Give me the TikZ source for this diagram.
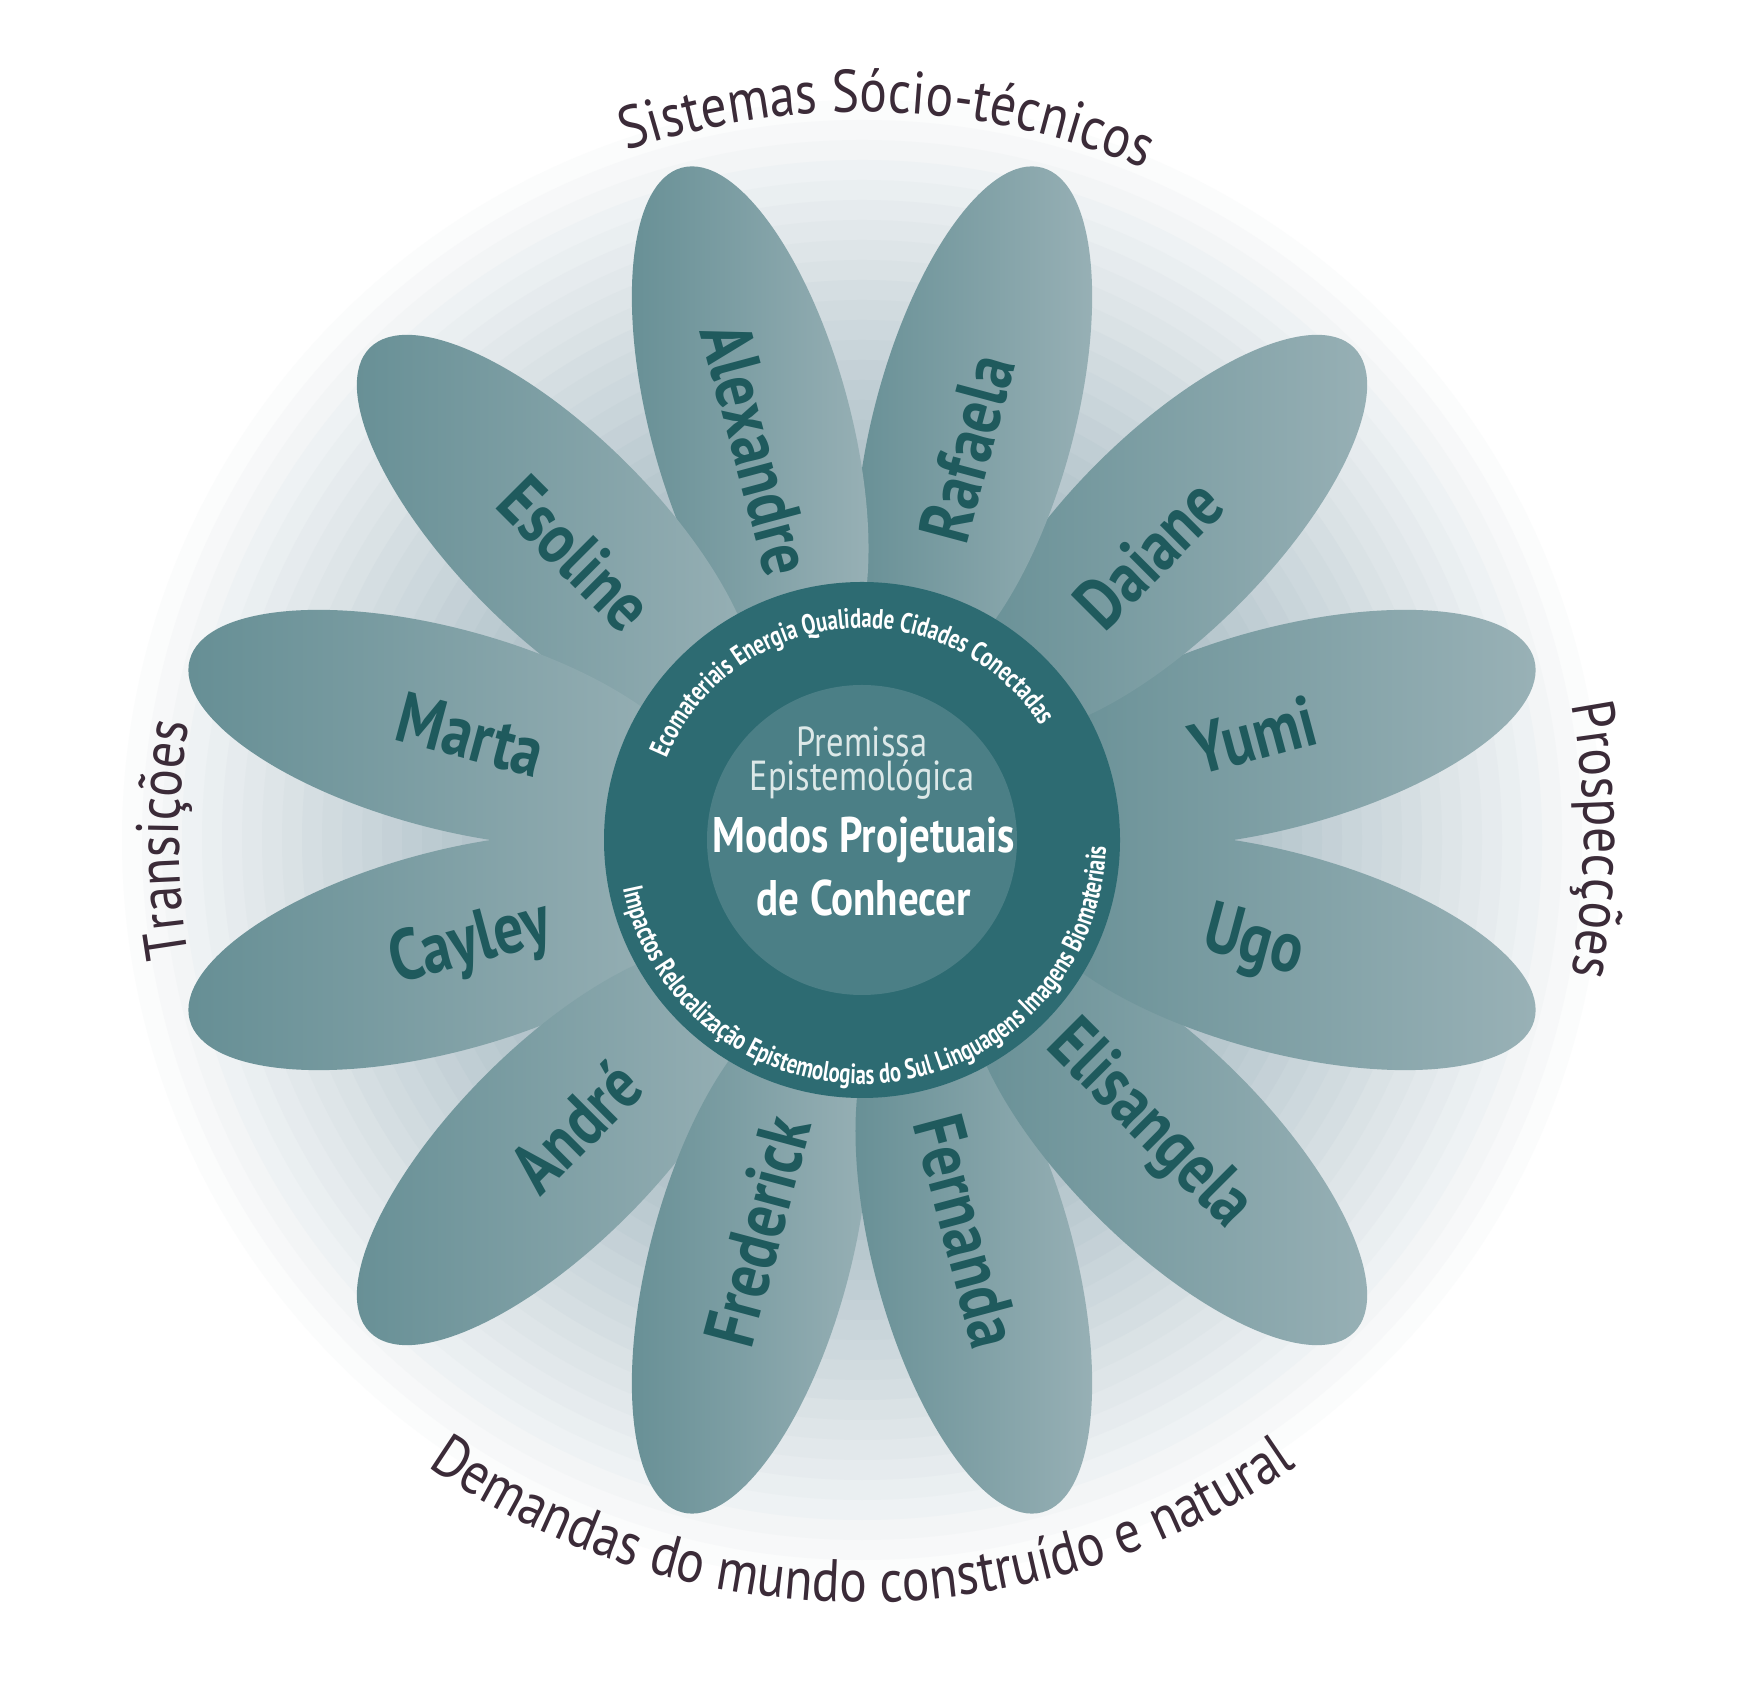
\documentclass[tikz,border=0pt]{standalone}
\usepackage{fontspec}
\setmainfont{PT Sans}
\newfontfamily\nm[FakeStretch=0.82]{PT Sans}
\newfontfamily\nmc[FakeStretch=0.74]{PT Sans}
\newfontfamily\lab[FakeStretch=0.86]{PT Sans}
\usetikzlibrary{decorations.text,calc}
\definecolor{halo}{HTML}{9FB4BD}
\definecolor{petaldark}{HTML}{658E94}
\definecolor{petallight}{HTML}{9AB2B7}
\definecolor{ringc}{HTML}{2D6B72}
\definecolor{innerc}{HTML}{4B7F86}
\definecolor{namec}{HTML}{1F5A5D}
\definecolor{labc}{HTML}{3B2B38}
\definecolor{premc}{HTML}{DCE8E8}
\tikzset{
  petal/.style={left color=petaldark, right color=petallight, draw=none},
  pname/.style={font=\nm\bfseries\fontsize{72}{72}\selectfont, text=namec, inner sep=0pt},
  ring/.style={decorate, decoration={text along path, text align=center, text={|\nmc\bfseries\fontsize{28}{28}\selectfont\color{white}|#1}}},
  outer/.style={decorate, decoration={text along path, text align=center, text={|\lab\fontsize{60}{60}\selectfont\color{labc}|#1}}}
}
\begin{document}
\begin{tikzpicture}[x=1pt,y=1pt]
\useasboundingbox (0,0) rectangle (1763,1697);
\fill[white] (0,0) rectangle (1763,1697);
\coordinate (c) at (862,857);
% halo
\foreach \i in {0,...,44}{
  \pgfmathsetmacro\rr{880-\i*20}
  \pgfmathsetmacro\pp{max(0,min(100,(760-\rr)/4.6))}
  \fill[halo!\pp!white] (c) circle (\rr);
}
% petals
\foreach \a in {15,45,...,345}{
  \begin{scope}[shift={(c)}, rotate=\a]
    \shade[petal] (432,0) ellipse (264 and 100);
  \end{scope}
}
% names
\foreach \a/\nmtxt/\id in {75/Rafaela/p1,45/Daiane/p2,15/Yumi/p3,-15/Ugo/p4,-45/Elisangela/p5,-75/Fernanda/p6}{
  \node[pname, rotate=\a] (\id) at ($(c)+(\a:405)$) {\nmtxt};
}
\foreach \a/\nmtxt/\id in {105/Alexandre/p7,135/Esoline/p8,165/Marta/p9,195/Cayley/p10,225/André/p11,255/Frederick/p12}{
  \pgfmathsetmacro\r{\a-180}
  \node[pname, rotate=\r] (\id) at ($(c)+(\a:405)$) {\nmtxt};
}
% center
\fill[ringc] (c) circle (258);
\fill[innerc] (c) circle (155);
\path[ring={Ecomateriais Energia Qualidade Cidades Conectadas}] ($(c)+(185:212)$) arc[start angle=185, end angle=5, radius=212];
\path[ring={Impactos Relocalização Epistemologias do Sul Linguagens Imagens Biomateriais}] ($(c)+(168:244)$) arc[start angle=168, end angle=382, radius=244];
\node[font=\nm\fontsize{42}{42}\selectfont, text=premc] (t1) at ($(c)+(0,98)$) {Premissa};
\node[font=\nm\fontsize{42}{42}\selectfont, text=premc] (t2) at ($(c)+(0,60)$) {Epistemológica};
\node[font=\nm\bfseries\fontsize{50}{50}\selectfont, text=white] (t3) at ($(c)+(2,0)$) {Modos Projetuais};
\node[font=\nm\bfseries\fontsize{50}{50}\selectfont, text=white] (t4) at ($(c)+(2,-58)$) {de Conhecer};
% outer labels
\path[outer={Sistemas Sócio-técnicos}] ($(c)+(150:728)$) arc[start angle=150, end angle=26, radius=728];
\path[outer={Transições}] ($(c)+(210:683)$) arc[start angle=210, end angle=150, radius=683];
\path[outer={Prospecções}] ($(c)+(30:722)$) arc[start angle=30, end angle=-30, radius=722];
\path[outer={Demandas do mundo construído e natural}] ($(c)+(195:762)$) arc[start angle=195, end angle=345, radius=762];
\end{tikzpicture}
\end{document}
